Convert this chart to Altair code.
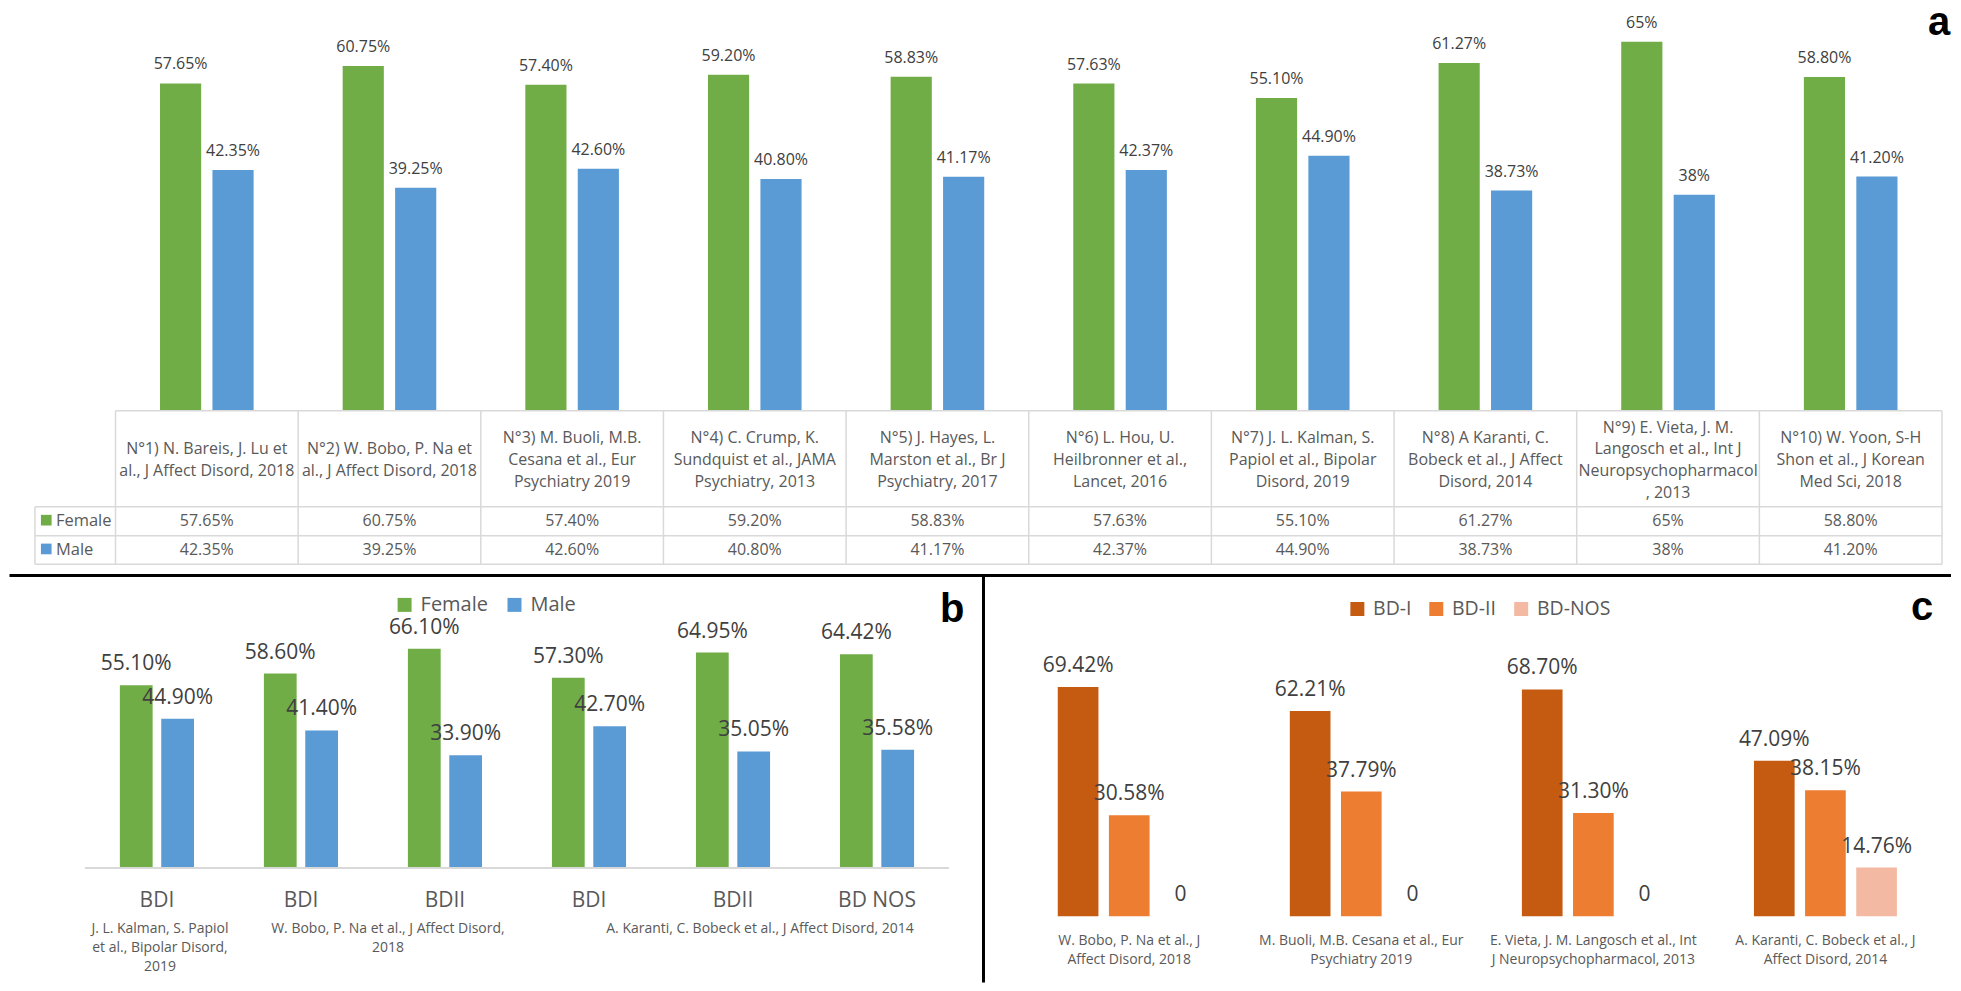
import altair as alt
import pandas as pd

# ---------------- data ----------------
study_keys_a = ["N1", "N2", "N3", "N4", "N5", "N6", "N7", "N8", "N9", "N10"]
study_headers_a = [
    "N°1) N. Bareis, J. Lu et\nal., J Affect Disord, 2018",
    "N°2) W. Bobo, P. Na et\nal., J Affect Disord, 2018",
    "N°3) M. Buoli, M.B.\nCesana et al., Eur\nPsychiatry 2019",
    "N°4) C. Crump, K.\nSundquist et al., JAMA\nPsychiatry, 2013",
    "N°5) J. Hayes, L.\nMarston et al., Br J\nPsychiatry, 2017",
    "N°6) L. Hou, U.\nHeilbronner et al.,\nLancet, 2016",
    "N°7) J. L. Kalman, S.\nPapiol et al., Bipolar\nDisord, 2019",
    "N°8) A Karanti, C.\nBobeck et al., J Affect\nDisord, 2014",
    "N°9) E. Vieta, J. M.\nLangosch et al., Int J\nNeuropsychopharmacol\n, 2013",
    "N°10) W. Yoon, S-H\nShon et al., J Korean\nMed Sci, 2018",
]
female_a = [57.65, 60.75, 57.40, 59.20, 58.83, 57.63, 55.10, 61.27, 65, 58.80]
male_a = [42.35, 39.25, 42.60, 40.80, 41.17, 42.37, 44.90, 38.73, 38, 41.20]
sexes = ["Female", "Male"]

group_keys_b = ["g1", "g2", "g3", "g4", "g5", "g6"]
bd_types_b = ["BDI", "BDI", "BDII", "BDI", "BDII", "BD NOS"]
female_b = [55.10, 58.60, 66.10, 57.30, 64.95, 64.42]
male_b = [44.90, 41.40, 33.90, 42.70, 35.05, 35.58]
sources_b = [
    "J. L. Kalman, S. Papiol\net al., Bipolar Disord,\n2019",
    "W. Bobo, P. Na et al., J Affect Disord,\n2018",
    "A. Karanti, C. Bobeck et al., J Affect Disord, 2014",
]
source_anchor_b = ["g1", "g2", "g5"]

study_keys_c = ["c1", "c2", "c3", "c4"]
study_labels_c = [
    "W. Bobo, P. Na et al., J\nAffect Disord, 2018",
    "M. Buoli, M.B. Cesana et al., Eur\nPsychiatry 2019",
    "E. Vieta, J. M. Langosch et al., Int\nJ Neuropsychopharmacol, 2013",
    "A. Karanti, C. Bobeck et al., J\nAffect Disord, 2014",
]
types_c = ["BD-I", "BD-II", "BD-NOS"]
bd1_c = [69.42, 62.21, 68.70, 47.09]
bd2_c = [30.58, 37.79, 31.30, 38.15]
nos_c = [0, 0, 0, 14.76]

# ---------------- style ----------------
FONT = "Open Sans"
BOLD_FONT = "Liberation Sans"
GREEN, BLUE = "#70AD47", "#5B9BD5"
C_BD1, C_BD2, C_NOS = "#C55A11", "#ED7D31", "#F4B9A2"
LABEL, TEXT, GRID = "#404040", "#595959", "#D9D9D9"

W = 1945
HA = 569
HB = 406
WB = 978
WC = W - WB


def fmt(v):
    if v == 0:
        return "0"
    if float(v).is_integer():
        return f"{int(v)}%"
    return f"{v:.2f}%"


one = pd.DataFrame({"k": [0]})


def hrule(x1, x2, y, color, sw):
    return alt.Chart(one).mark_rule(color=color, strokeWidth=sw).encode(
        x=alt.value(x1), x2=alt.value(x2), y=alt.value(y))


def vrule(x, y1, y2, color, sw):
    return alt.Chart(one).mark_rule(color=color, strokeWidth=sw).encode(
        x=alt.value(x), y=alt.value(y1), y2=alt.value(y2))


def letter(t, x, y):
    return alt.Chart(one).mark_text(text=t, font=BOLD_FONT, fontWeight="bold", fontSize=40,
                                    align="left", baseline="alphabetic", color="black").encode(
        x=alt.value(x), y=alt.value(y))


# ================= panel a =================
df_a = pd.DataFrame({
    "key": study_keys_a * 2,
    "sex": ["Female"] * len(study_keys_a) + ["Male"] * len(study_keys_a),
    "value": female_a + male_a,
})
df_a["label"] = df_a["value"].map(fmt)
hdr_a = pd.DataFrame({"key": study_keys_a, "header": study_headers_a})
hdr_a["nlines"] = hdr_a["header"].str.count("\n") + 1

sc_xa = alt.Scale(domain=study_keys_a, range=[107.6, 1936.0], paddingInner=0, paddingOuter=0)


def xa(bp=None):
    if bp is None:
        return alt.X("key:N", axis=None, scale=sc_xa)
    return alt.X("key:N", axis=None, scale=sc_xa, bandPosition=bp)


xoa = alt.XOffset("sex:N", scale=alt.Scale(domain=sexes, paddingInner=0.215, paddingOuter=0.849))
BASE_A, PX_A = 401.9, 5.67
ya = alt.Y("value:Q", axis=None,
           scale=alt.Scale(domain=[0, 65], range=[BASE_A, BASE_A - 65 * PX_A], nice=False))
ca = alt.Color("sex:N", legend=None, scale=alt.Scale(domain=sexes, range=[GREEN, BLUE]))

bars_a = alt.Chart(df_a).mark_bar().encode(x=xa(), xOffset=xoa, y=ya, color=ca)
vals_a = alt.Chart(df_a).mark_text(font=FONT, fontSize=16, color=LABEL, baseline="alphabetic",
                                   dy=-14).encode(x=xa(), xOffset=xoa, y=ya, text="label:N")

T_TOP, T_R1, T_R2, T_BOT = 402.7, 498.7, 527.7, 556.3
L_LEFT, T_LEFT, T_RIGHT = 27, 107.6, 1936.0

grid_v = alt.Chart(hdr_a).mark_rule(color=GRID, strokeWidth=1.5).encode(
    x=xa(0), y=alt.value(T_TOP), y2=alt.value(T_BOT))
grid_last = alt.Chart(hdr_a.tail(1)).mark_rule(color=GRID, strokeWidth=1.5).encode(
    x=xa(1), y=alt.value(T_TOP), y2=alt.value(T_BOT))
grid_h = [hrule(T_LEFT, T_RIGHT, T_TOP, GRID, 1.5)] + [hrule(L_LEFT, T_RIGHT, yy, GRID, 1.5)
                                                       for yy in (T_R1, T_R2, T_BOT)]
grid_l = vrule(L_LEFT, T_R1, T_BOT, GRID, 1.5)

HDR_FS, HDR_LH = 16, 21.7
hdr_layers = []
for n in sorted(hdr_a["nlines"].unique()):
    first_base = 457 - (n - 1) * HDR_LH / 2
    hdr_layers.append(
        alt.Chart(hdr_a).transform_filter(alt.datum.nlines == int(n)).mark_text(
            font=FONT, fontSize=HDR_FS, color=TEXT, lineBreak="\n", lineHeight=HDR_LH,
            baseline="top").encode(
            x=xa(), y=alt.value(first_base - round(0.79 * HDR_FS)), text="header:N"))

row_y = {"Female": (T_R1 + T_R2) / 2, "Male": (T_R2 + T_BOT) / 2}
row_text = []
for s in sexes:
    row_text.append(
        alt.Chart(df_a).transform_filter(alt.datum.sex == s).mark_text(
            font=FONT, fontSize=16, color=TEXT, baseline="middle").encode(
            x=xa(), y=alt.value(row_y[s]), text="label:N"))
    row_text.append(
        alt.Chart(pd.DataFrame({"sex": [s]})).mark_square(size=114, opacity=1).encode(
            x=alt.value(38.3), y=alt.value(row_y[s] - 1), color=ca))
    row_text.append(
        alt.Chart(pd.DataFrame({"sex": [s]})).mark_text(
            font=FONT, fontSize=16.5, color=TEXT, baseline="middle", align="left").encode(
            x=alt.value(48), y=alt.value(row_y[s]), text="sex:N"))

panel_a = alt.layer(
    bars_a, vals_a, grid_v, grid_last, *grid_h, grid_l, *hdr_layers, *row_text,
    hrule(1.5, W, 567.5, "black", 3),
    letter("a", 1922, 27),
).properties(width=W, height=HA)

# ================= panel b =================
df_b = pd.DataFrame({
    "key": group_keys_b * 2,
    "sex": ["Female"] * len(group_keys_b) + ["Male"] * len(group_keys_b),
    "value": female_b + male_b,
})
df_b["label"] = df_b["value"].map(fmt)
cat_b = pd.DataFrame({"key": group_keys_b, "type": bd_types_b})

sc_xb = alt.Scale(domain=group_keys_b, range=[77, 942], paddingInner=0, paddingOuter=0)


def xb(bp=None):
    if bp is None:
        return alt.X("key:N", axis=None, scale=sc_xb)
    return alt.X("key:N", axis=None, scale=sc_xb, bandPosition=bp)


xob = alt.XOffset("sex:N", scale=alt.Scale(domain=sexes, paddingInner=0.208, paddingOuter=0.845))
BASE_B, PX_B = 290.7, 3.31
yb = alt.Y("value:Q", axis=None,
           scale=alt.Scale(domain=[0, 70], range=[BASE_B, BASE_B - 70 * PX_B], nice=False))
cb = alt.Color("sex:N", scale=alt.Scale(domain=sexes, range=[GREEN, BLUE]),
               legend=alt.Legend(orient="none", legendX=387, legendY=18, direction="horizontal",
                                 title=None, symbolType="square", symbolSize=196,
                                 symbolStrokeWidth=0, symbolOpacity=1, labelFont=FONT,
                                 labelFontSize=20, labelColor=TEXT, labelOffset=6,
                                 columnPadding=16, padding=0))

bars_b = alt.Chart(df_b).mark_bar().encode(x=xb(), xOffset=xob, y=yb, color=cb)
vals_b = alt.Chart(df_b).mark_text(font=FONT, fontSize=21, color=LABEL, baseline="alphabetic",
                                   dy=-15).encode(x=xb(), xOffset=xob, y=yb, text="label:N")
cats_b = alt.Chart(cat_b).mark_text(font=FONT, fontSize=21, color=TEXT, baseline="alphabetic").encode(
    x=xb(), y=alt.value(330), text="type:N")

src_layers = []
for src, anc, bp, dx in zip(sources_b, source_anchor_b, [0.5, 1.0, 0.5], [3, 15, 27]):
    src_layers.append(
        alt.Chart(pd.DataFrame({"key": [anc], "src": [src]})).mark_text(
            font=FONT, fontSize=14, color=TEXT, baseline="top", lineBreak="\n",
            lineHeight=19.3, dx=dx).encode(x=xb(bp), y=alt.value(345.3), text="src:N"))

panel_b = alt.layer(
    bars_b, vals_b,
    hrule(77, 942, 291.5, GRID, 2),
    cats_b, *src_layers,
    vrule(976.5, 0, HB, "black", 3),
    letter("b", 933, 45),
).properties(width=WB, height=HB)

# ================= panel c =================
df_c = pd.DataFrame({
    "key": study_keys_c * 3,
    "bd": ["BD-I"] * 4 + ["BD-II"] * 4 + ["BD-NOS"] * 4,
    "value": bd1_c + bd2_c + nos_c,
})
df_c["label"] = df_c["value"].map(fmt)
cat_c = pd.DataFrame({"key": study_keys_c, "study": study_labels_c})

sc_xc = alt.Scale(domain=study_keys_c, range=[28.25, 957.45], paddingInner=0, paddingOuter=0)
xc = alt.X("key:N", axis=None, scale=sc_xc)
xoc = alt.XOffset("bd:N", scale=alt.Scale(domain=types_c, paddingInner=0.205, paddingOuter=0.871))
BASE_C, PX_C = 339.7, 3.305
yc = alt.Y("value:Q", axis=None,
           scale=alt.Scale(domain=[0, 70], range=[BASE_C, BASE_C - 70 * PX_C], nice=False))
cc = alt.Color("bd:N", scale=alt.Scale(domain=types_c, range=[C_BD1, C_BD2, C_NOS]),
               legend=alt.Legend(orient="none", legendX=363, legendY=22, direction="horizontal",
                                 title=None, symbolType="square", symbolSize=196,
                                 symbolStrokeWidth=0, symbolOpacity=1, labelFont=FONT,
                                 labelFontSize=19.5, labelColor=TEXT, labelOffset=6,
                                 columnPadding=15, padding=0))

bars_c = alt.Chart(df_c).mark_bar().encode(x=xc, xOffset=xoc, y=yc, color=cc)
vals_c = alt.Chart(df_c).mark_text(font=FONT, fontSize=21, color=LABEL, baseline="alphabetic",
                                   dy=-15).encode(x=xc, xOffset=xoc, y=yc, text="label:N")
cats_c = alt.Chart(cat_c).mark_text(font=FONT, fontSize=14, color=TEXT, baseline="top",
                                    lineBreak="\n", lineHeight=19.7).encode(
    x=xc, y=alt.value(357), text="study:N")

panel_c = alt.layer(
    bars_c, vals_c, cats_c,
    letter("c", 927, 43),
).properties(width=WC, height=HB)

bottom = alt.hconcat(panel_b, panel_c, spacing=0, bounds="flush").resolve_scale(
    x="independent", y="independent", color="independent", xOffset="independent")

chart = alt.vconcat(panel_a, bottom, spacing=0, bounds="flush").resolve_scale(
    x="independent", y="independent", color="independent", xOffset="independent"
).properties(
    padding={"left": 0, "top": -5, "right": 0, "bottom": 0}, background="white"
).configure_view(strokeWidth=0)

chart.save("out.html", embed_options={"renderer": "svg", "actions": False})
